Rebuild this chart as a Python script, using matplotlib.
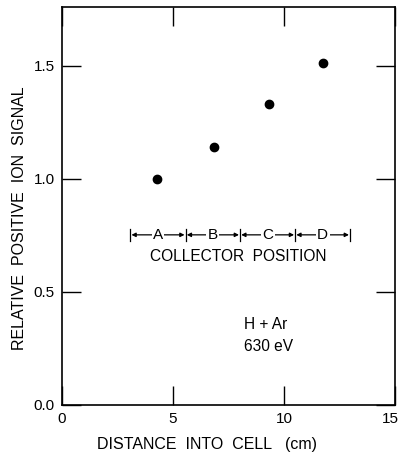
import matplotlib
matplotlib.use('Agg')
from matplotlib import pyplot as plt
from matplotlib.transforms import ScaledTranslation

# measured signal vs distance into the cell
distance = [4.3, 6.85, 9.3, 11.75]
signal = [1.00, 1.14, 1.33, 1.51]

# collector position zones
zone_names = ['A', 'B', 'C', 'D']
zone_edges = [3.08, 5.57, 8.02, 10.5, 12.97]
zone_y = 0.752

plt.rcParams['font.family'] = ['Liberation Sans', 'DejaVu Sans']

fig = plt.figure(figsize=(4.02, 4.54), dpi=100)
ax = fig.add_axes([0.154, 0.108, 0.829, 0.877])

ax.plot(distance, signal, 'o', color='black', markersize=6)

# zone bars with arrows
for i, name in enumerate(zone_names):
    x0, x1 = zone_edges[i], zone_edges[i + 1]
    ax.annotate('', xy=(x0 + 0.05, zone_y), xytext=(x1 - 0.05, zone_y),
                arrowprops=dict(arrowstyle='<|-|>', color='black', lw=0.9,
                                mutation_scale=6, shrinkA=0, shrinkB=0))
    ax.text((x0 + x1) / 2, zone_y, name, ha='center', va='center', fontsize=11,
            bbox=dict(facecolor='white', edgecolor='none', pad=1.0))
for x in zone_edges:
    ax.plot([x, x], [zone_y - 0.025, zone_y + 0.025], color='black', lw=0.9)

ax.text(7.95, 0.655, 'COLLECTOR  POSITION', ha='center', va='center', fontsize=11.2)
ax.text(8.2, 0.355, 'H + Ar', ha='left', va='center', fontsize=11.2)
ax.text(8.2, 0.258, '630 eV', ha='left', va='center', fontsize=11.2)

ax.set_xlim(0, 15)
ax.set_ylim(0, 1.76)
ax.set_xticks([0, 5, 10, 15])
ax.set_xticklabels(['0', '5', '10', '15'])
ax.set_yticks([0.0, 0.5, 1.0, 1.5])
ax.set_yticklabels(['0.0', '0.5', '1.0', '1.5'])
ax.tick_params(direction='in', length=14, width=1, top=True, right=True,
               labelsize=11, pad=5)
for s in ax.spines.values():
    s.set_linewidth(1.2)

# keep the last x label inside the figure edge
last = ax.get_xticklabels()[-1]
last.set_transform(last.get_transform() + ScaledTranslation(-5 / 100, 0, fig.dpi_scale_trans))

ax.set_xlabel('DISTANCE  INTO  CELL   (cm)', fontsize=11.5, labelpad=7)
ax.xaxis.set_label_coords(0.435, -0.08)
ax.set_ylabel('RELATIVE  POSITIVE  ION  SIGNAL', fontsize=11.5, labelpad=8)
ax.yaxis.set_label_coords(-0.105, 0.47)

fig.savefig('out.png', dpi=100)
